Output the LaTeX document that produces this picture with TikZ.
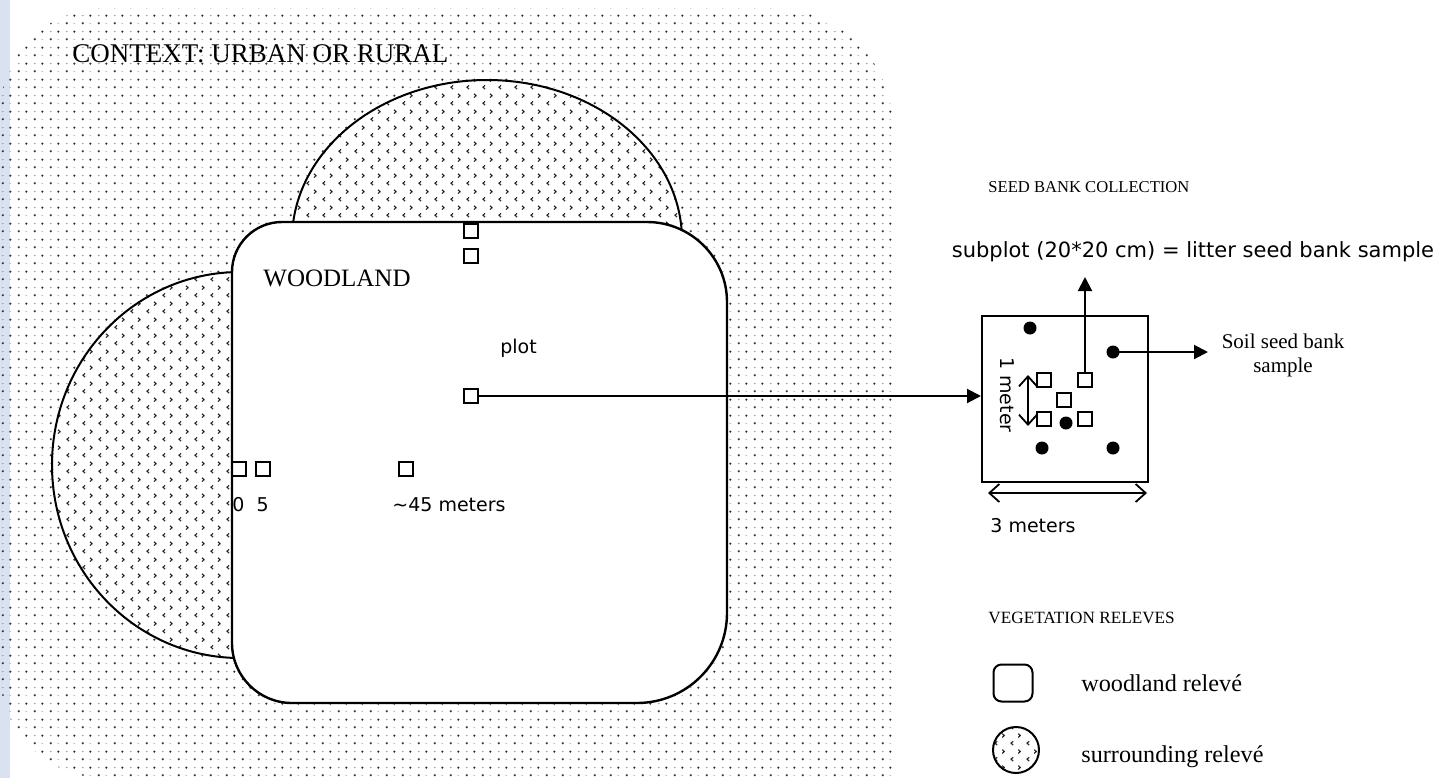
\documentclass[tikz,border=0pt]{standalone}
\usepackage{fontspec}
\setmainfont{Liberation Serif}
\newfontfamily\comicfont{DejaVu Sans}
\usetikzlibrary{arrows.meta,patterns.meta}

\definecolor{stripblue}{HTML}{D9E2F1}

% dotted ground of the context
\tikzdeclarepattern{
  name=ctxdots, type=colored,
  bounding box={(0pt,0pt) and (8pt,8pt)},
  tile size={(8pt,8pt)},
  code={
    \fill[black!80] (2pt,2pt) circle (0.65pt);
    \fill[black!80] (6pt,6pt) circle (0.65pt);
    \fill[black!35] (5.5pt,1.75pt) rectangle (6.5pt,2.25pt);
    \fill[black!35] (1.5pt,5.75pt) rectangle (2.5pt,6.25pt);
  }
}
% small chevrons of the surrounding releves
\tikzdeclarepattern{
  name=relchev, type=uncolored,
  bounding box={(0pt,0pt) and (8pt,8pt)},
  tile size={(8pt,8pt)},
  code={
    \draw[line width=0.6pt] (2.7pt,3pt) -- (1.6pt,2pt) -- (2.7pt,1pt);
    \draw[line width=0.6pt] (5.3pt,7pt) -- (6.4pt,6pt) -- (5.3pt,5pt);
  }
}

\tikzset{
  surround/.style={draw, line width=1pt, preaction={fill=white}, pattern=relchev, pattern color=black!85},
  woodland/.style={draw, line width=1.2pt, fill=white},
  relsq/.style={draw, line width=0.9pt, minimum size=7.2pt, inner sep=0pt},
  seeddot/.style={circle, fill, minimum size=6.5pt, inner sep=0pt},
  arr/.style={line width=1pt, -{Triangle[length=7pt,width=7pt]}},
  dimarr/.style={line width=0.9pt, {Straight Barb[length=5pt,width=9pt]}-{Straight Barb[length=5pt,width=9pt]}},
  comic/.style={font=\comicfont\fontsize{9.5}{11}\selectfont, inner sep=0pt},
}

\begin{document}
\begin{tikzpicture}[x=0.5pt, y=-0.5pt] % one unit = one pixel of the layout
  \useasboundingbox (0,0) rectangle (1442,778);

  % Page strip
  \fill[stripblue] (0,0) rectangle (10,778);

  % Context: urban or rural
  \fill[pattern=ctxdots] (0,113) arc[start angle=180, end angle=90, radius=52.5pt]
    -- (773,8) arc[start angle=90, end angle=0, radius=60pt]
    -- (893,778) -- (105,778) arc[start angle=270, end angle=180, radius=52.5pt] -- cycle;
  \node[anchor=west, inner sep=0pt, font=\fontsize{13.5}{16}\selectfont] (context) at (72,54) {CONTEXT: URBAN OR RURAL};

  % Surrounding releves
  \path[surround] (240,465) ellipse [x radius=94pt, y radius=96.5pt];
  \path[surround] (487,240) ellipse [x radius=97.5pt, y radius=80pt];

  % Woodland
  \path[woodland] (232,272) arc[start angle=180, end angle=90, radius=25pt]
    -- (647,222) arc[start angle=90, end angle=0, radius=40pt]
    -- (727,613) arc[start angle=0, end angle=-90, radius=45pt]
    -- (292,703) arc[start angle=270, end angle=180, radius=30pt] -- cycle;
  \node[anchor=west, inner sep=0pt, font=\fontsize{12.5}{15}\selectfont] (wood) at (263,278) {WOODLAND};

  % Releves along the transect
  \foreach \n/\x/\y in {t1/471/231, t2/471/256, e0/239/469, e5/263/469, e45/406/469}
    \node[relsq] (\n) at (\x,\y) {};
  \node[relsq] (plot) at (471,396) {};
  \node[comic, anchor=west] (plotlbl) at (500,348) {plot};
  \node[comic, anchor=west] (dist) at (232,505) {0\ \ 5};
  \node[comic] (far) at (449,505) {\textasciitilde45 meters};

  % Seed bank collection
  \node[anchor=west, inner sep=0pt, font=\fontsize{8.3}{10}\selectfont] (seedttl) at (988,187) {SEED BANK COLLECTION};
  \node[draw, line width=1pt, minimum size=83pt, inner sep=0pt] (seedsq) at (1065,399) {};
  \foreach \n/\x/\y in {s1/1044/380, s2/1085/380, s3/1064/400, s4/1044/419, s5/1085/419}
    \node[relsq] (\n) at (\x,\y) {};
  \foreach \n/\x/\y in {d1/1030/328, d2/1113/352, d3/1042/448, d4/1113/448, d5/1066/423}
    \node[seeddot] (\n) at (\x,\y) {};

  \draw[arr] (plot.east) -- (plot.east -| seedsq.west);

  \coordinate (subtip) at (1085,277);
  \draw[arr] (s2.north) -- (subtip);
  \node[comic, font=\comicfont\fontsize{10.5}{12}\selectfont] (sublbl) at (1193,252) {subplot (20*20 cm) = litter seed bank sample};

  \coordinate (soiltip) at (1208,352);
  \draw[arr] (d2.center) -- (soiltip);
  \node[align=center, inner sep=0pt, font=\fontsize{10.5}{12}\selectfont] (soillbl) at (1283,355) {Soil seed bank\\sample};

  % Dimensions
  \coordinate (mtop) at (1028,375);
  \coordinate (mbot) at (1028,426);
  \draw[dimarr] (mtop) -- (mbot);
  \node[comic, rotate=-90] (onem) at (1007,395) {1 meter};
  \coordinate (wleft) at (988,493);
  \coordinate (wright) at (1147,493);
  \draw[dimarr] (wleft) -- (wright);
  \node[comic] (threem) at (1033,526) {3 meters};

  % Legend
  \node[anchor=west, inner sep=0pt, font=\fontsize{8.6}{10}\selectfont] (vegttl) at (988,618) {VEGETATION RELEVES};
  \node[draw, line width=1pt, rounded corners=4pt, minimum width=19.5pt, minimum height=18.5pt, inner sep=0pt] (legwood) at (1013,683) {};
  \node[anchor=west, inner sep=0pt, font=\fontsize{12.1}{14}\selectfont] (legwoodlbl) at (1081,683) {woodland relevé};
  \node[surround, circle, minimum size=23pt, inner sep=0pt] (legsur) at (1016,750) {};
  \node[anchor=west, inner sep=0pt, font=\fontsize{12.1}{14}\selectfont] (legsurlbl) at (1081,757) {surrounding relevé};
\end{tikzpicture}
\end{document}
